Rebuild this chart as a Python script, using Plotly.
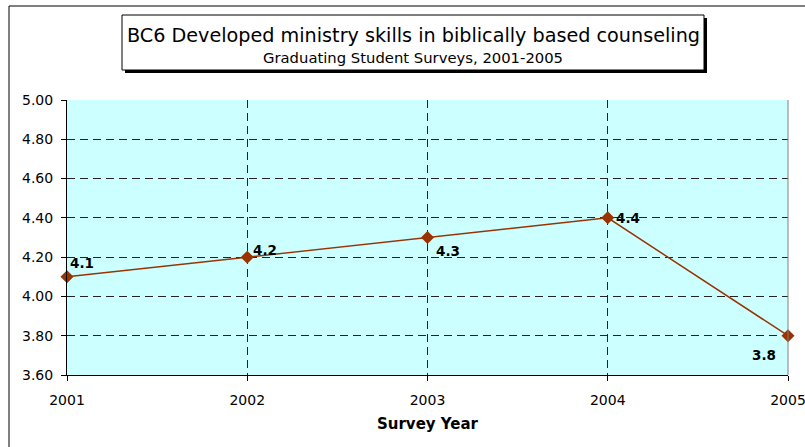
import plotly.graph_objects as go

# Survey results
years = [2001, 2002, 2003, 2004, 2005]
scores = [4.1, 4.2, 4.3, 4.4, 3.8]
y_ticks = [3.6, 3.8, 4.0, 4.2, 4.4, 4.6, 4.8, 5.0]

# pixel offsets of each value label from its marker
label_dx = [15, 18, 20, 20, -24]
label_dy = [-14, -7, 13, 0, 19]

title_main = "BC6 Developed ministry skills in biblically based counseling"
title_sub = "Graduating Student Surveys, 2001-2005"

W, H = 805, 447
ML, MR, MT, MB = 67, 17, 100, 72
PW, PH = W - ML - MR, H - MT - MB
FONT = "DejaVu Sans"


def px_x(x):
    return (x - ML) / PW


def px_y(y):
    return 1 - (y - MT) / PH


line_color = "#993300"

fig = go.Figure()
fig.add_trace(go.Scatter(
    x=years, y=scores,
    mode="lines+markers",
    line=dict(color=line_color, width=1.5),
    marker=dict(symbol="diamond", size=10, color=line_color),
    cliponaxis=False,
    showlegend=False,
))

shapes = [
    # outer chart frame
    dict(type="rect", xref="paper", yref="paper",
         x0=px_x(9), x1=px_x(W + 20), y0=px_y(H + 20), y1=px_y(6),
         line=dict(color="black", width=1), layer="below"),
    # title box shadow
    dict(type="rect", xref="paper", yref="paper",
         x0=px_x(125), x1=px_x(707), y0=px_y(73), y1=px_y(18),
         line=dict(width=0), fillcolor="black"),
    # title box
    dict(type="rect", xref="paper", yref="paper",
         x0=px_x(122), x1=px_x(704), y0=px_y(70), y1=px_y(15),
         line=dict(color="black", width=1), fillcolor="white"),
    # right border of plotting area
    dict(type="line", xref="paper", yref="paper",
         x0=1, x1=1, y0=0, y1=1,
         line=dict(color="#808080", width=1)),
]

annotations = [
    dict(text=title_main, xref="paper", yref="paper",
         x=px_x(413), y=px_y(35), xanchor="center", yanchor="middle",
         showarrow=False,
         font=dict(family=FONT, size=19.2, color="black")),
    dict(text=title_sub, xref="paper", yref="paper",
         x=px_x(413), y=px_y(57), xanchor="center", yanchor="middle",
         showarrow=False,
         font=dict(family=FONT, size=14.8, color="black")),
]

# value labels next to each marker
for x, y, dx, dy in zip(years, scores, label_dx, label_dy):
    annotations.append(dict(
        x=x, y=y, xref="x", yref="y",
        text=f"<b>{y:.1f}</b>", showarrow=False,
        xanchor="center", yanchor="middle",
        xshift=dx, yshift=-dy,
        font=dict(family=FONT, size=13.5, color="black"),
    ))

fig.update_layout(
    width=W, height=H,
    margin=dict(l=ML, r=MR, t=MT, b=MB, pad=0, autoexpand=False),
    paper_bgcolor="white",
    plot_bgcolor="#CCFFFF",
    font=dict(family=FONT, size=14, color="black"),
    shapes=shapes,
    annotations=annotations,
    xaxis=dict(
        range=[2001, 2005], tickvals=years, ticktext=[str(y) for y in years],
        showline=True, linecolor="black", linewidth=1,
        ticks="outside", ticklen=5, tickcolor="black",
        ticklabelstandoff=7, ticklabeloverflow="allow", automargin=False,
        showgrid=True, gridcolor="#222222", griddash="8px,5px", gridwidth=1,
        zeroline=False,
        title=dict(text="<b>Survey Year</b>", font=dict(family=FONT, size=15), standoff=11),
        tickfont=dict(family=FONT, size=14),
    ),
    yaxis=dict(
        range=[3.6, 5.0], tickvals=y_ticks, tickformat=".2f",
        showline=True, linecolor="black", linewidth=1,
        ticks="outside", ticklen=5, tickcolor="black",
        ticklabelstandoff=5, automargin=False,
        showgrid=True, gridcolor="#222222", griddash="8px,5px", gridwidth=1,
        zeroline=False, tickfont=dict(family=FONT, size=14),
    ),
)

fig.write_html("out.html")
